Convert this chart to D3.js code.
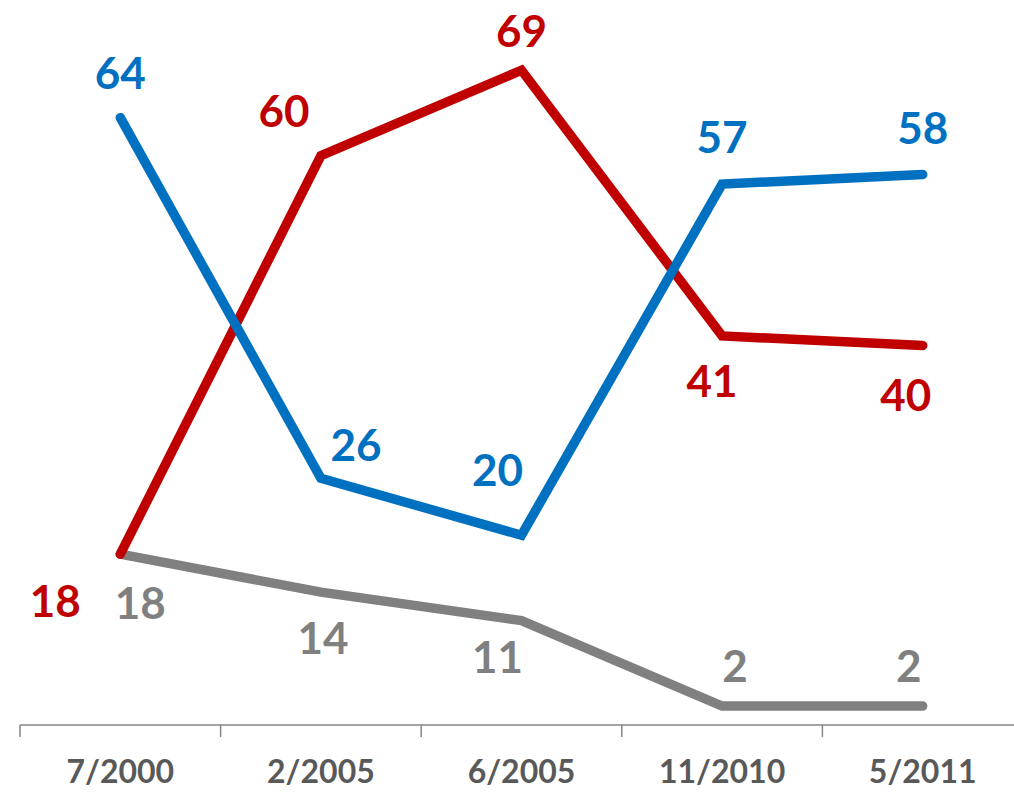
<!DOCTYPE html>
<html>
<head>
<meta charset="utf-8">
<script src="https://cdn.jsdelivr.net/npm/d3@7"></script>
<style>
  body { margin: 0; background: #fff; }
  svg { display: block; font-family: Lato, "Open Sans", sans-serif; }
</style>
</head>
<body>
<svg id="chart"></svg>
<script>
// survey dates along the x axis
const dates = ["7/2000", "2/2005", "6/2005", "11/2010", "5/2011"];

// the three series
const blueValues = [64, 26, 20, 57, 58];
const redValues = [18, 60, 69, 41, 40];
const grayValues = [18, 14, 11, 2, 2];

const series = [
  {name: "blue", values: blueValues, color: "#0070C0",
   // label nudges (px) relative to each point
   nudge: [[0, -46], [35, -34], [-24, -66], [0, -48], [0, -48]]},
  {name: "red", values: redValues, color: "#C00000",
   nudge: [[-65, 46], [-37, -46], [0, -40], [-10, 44], [-17, 49]]},
  {name: "gray", values: grayValues, color: "#808080",
   nudge: [[20, 48], [2, 45], [-24, 35], [13, -41], [-14, -41]]}
];

const width = 1014, height = 792;

const svg = d3.select("#chart")
  .attr("width", width)
  .attr("height", height);

// band scale so the ticks fall between categories
const xScale = d3.scaleBand()
  .domain(dates)
  .range([20, 1023]);

const yScale = d3.scaleLinear()
  .domain([0, 76.4])
  .range([725, 0]);

const xAxis = d3.axisBottom(xScale).tickSize(0).tickPadding(0);

const axisG = svg.append("g")
  .attr("transform", "translate(0,725)")
  .call(xAxis);

axisG.select(".domain").remove();
axisG.append("line")
  .attr("x1", 20).attr("x2", width)
  .attr("y1", 0).attr("y2", 0)
  .attr("stroke", "#868686").attr("stroke-width", 1.5);

// tick marks at band boundaries
axisG.selectAll(".bound")
  .data(dates)
  .join("line")
  .attr("class", "bound")
  .attr("x1", d => xScale(d)).attr("x2", d => xScale(d))
  .attr("y1", 0).attr("y2", 12)
  .attr("stroke", "#868686").attr("stroke-width", 1.5);

axisG.selectAll(".tick text")
  .attr("y", 47)
  .attr("dy", "0.35em")
  .attr("fill", "#595959")
  .attr("font-size", 32)
  .attr("font-weight", "bold")
  .attr("font-family", "Lato, sans-serif");

const xPos = i => xScale(dates[i]) + xScale.bandwidth() / 2;

const line = d3.line()
  .x((d, i) => xPos(i))
  .y(d => yScale(d));

// gray first, then red, then blue on top
const drawOrder = [series[2], series[1], series[0]];

svg.selectAll(".series")
  .data(drawOrder)
  .join("path")
  .attr("class", "series")
  .attr("d", d => line(d.values))
  .attr("fill", "none")
  .attr("stroke", d => d.color)
  .attr("stroke-width", 9.5)
  .attr("stroke-linecap", "round")
  .attr("stroke-linejoin", "miter");

series.forEach(s => {
  svg.append("g")
    .selectAll("text")
    .data(s.values)
    .join("text")
    .attr("x", (d, i) => xPos(i) + s.nudge[i][0])
    .attr("y", (d, i) => yScale(d) + s.nudge[i][1])
    .attr("text-anchor", "middle")
    .attr("dominant-baseline", "central")
    .attr("fill", s.color)
    .attr("font-size", 44)
    .attr("font-weight", "bold")
    .text(d => d);
});
</script>
</body>
</html>
